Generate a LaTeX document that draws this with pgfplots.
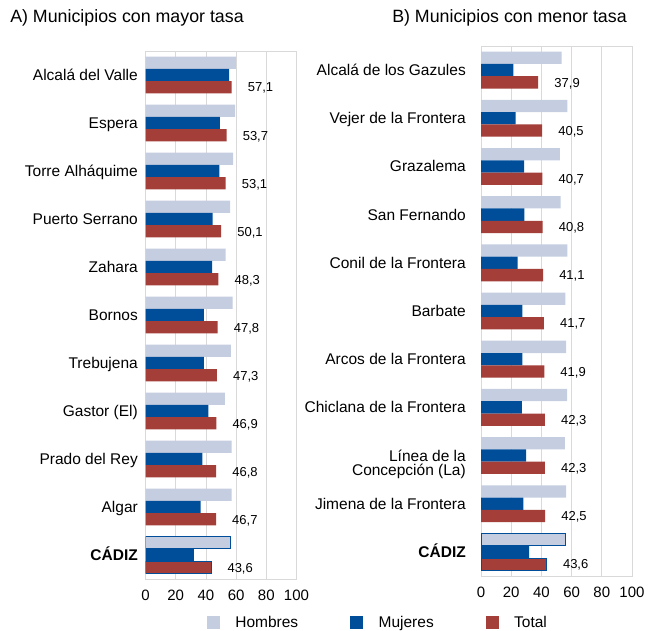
\documentclass[border=0pt]{standalone}
\usepackage{pgfplots}
\usepackage{pgfplotstable}
\pgfplotsset{compat=1.18}
\usepackage{fontspec}
\setmainfont{Liberation Sans}
\definecolor{hom}{HTML}{C5CDE0}
\definecolor{muj}{HTML}{004D99}
\definecolor{tot}{HTML}{A33E38}
\definecolor{gridc}{HTML}{D9D9D9}

\pgfplotstableread{
y h m t
10 59.9 55.3 57.1
9 59.3 49.3 53.7
8 58.1 48.9 53.1
7 56.0 44.5 50.1
6 53.1 44.2 48.3
5 57.7 38.7 47.8
4 56.6 38.7 47.3
3 52.6 41.6 46.9
2 57.0 37.6 46.8
1 57.0 36.5 46.7
0 56.4 32.0 43.6
}\tabA

\pgfplotstableread{
y h m t
10 53.4 21.4 37.9
9 57.2 23.0 40.5
8 52.3 28.5 40.7
7 52.8 28.7 40.8
6 57.2 24.3 41.1
5 55.8 27.4 41.7
4 56.3 27.4 41.9
3 57.0 27.0 42.3
2 55.6 29.8 42.3
1 56.3 28.0 42.5
0 55.8 31.8 43.6
}\tabB

\pgfplotsset{panel/.style={
  xbar, scale only axis, width=151pt,
  xmin=0, xmax=100, ymin=-0.5, ymax=10.5,
  xtick={0,20,...,100}, ytick={0,...,10},
  xmajorgrids, grid style={gridc, line width=0.8pt},
  axis line style={gridc, line width=0.8pt},
  major tick length=0pt,
  bar width=12.3pt,
  /pgf/number format/assume math mode=true,
  xticklabel style={font=\fontsize{15}{18}\selectfont, inner sep=0pt, anchor=north, yshift=-11pt},
  yticklabel style={font=\fontsize{15.5}{14}\selectfont, inner sep=0pt, anchor=base east, yshift=-5.5pt},
  title style={anchor=base west, inner sep=0pt, font=\fontsize{17.8}{20}\selectfont},
},
hbar/.style={fill=hom, draw=none, bar shift=12.3pt, forget plot},
mbar/.style={fill=muj, draw=none, bar shift=0pt, forget plot},
tbar/.style={fill=tot, draw=none, bar shift=-12.3pt, forget plot},
vlab/.style={point meta=x, nodes near coords,
  nodes near coords style={font=\fontsize{13}{15}\selectfont, anchor=west, inner sep=0pt, xshift=16pt, yshift=-1pt,
  /pgf/number format/.cd, fixed, fixed zerofill, precision=1, use comma}},
}

\begin{document}
\begin{tikzpicture}
\useasboundingbox (0,0) rectangle (648pt,630pt);
\begin{axis}[panel, height=528pt, at={(145.5pt,51pt)}, anchor=south west,
  title={A) Municipios con mayor tasa}, title style={at={(-0.897,1.043)}},
  yticklabel style={xshift=-7.5pt},
  yticklabels={\textbf{CÁDIZ}, Algar, Prado del Rey, Gastor (El), Trebujena, Bornos, Zahara, Puerto Serrano, Torre Alháquime, Espera, Alcalá del Valle},
  legend columns=3,
  legend style={at={(0.407,-0.0824)}, anchor=west, draw=none, fill=none, inner sep=0pt, outer sep=0pt,
    nodes={inner sep=0pt}, font=\fontsize{15.5}{18}\selectfont,
    /tikz/every odd column/.append style={column sep=16pt},
    /tikz/every even column/.append style={column sep=52pt}},
]
\addplot[hbar] table[x=h, y=y] {\tabA};
\addplot[mbar] table[x=m, y=y] {\tabA};
\addplot[tbar, vlab] table[x=t, y=y] {\tabA};
\addplot[hbar, draw=muj, line width=1pt] coordinates {(56.4,0)};
\addplot[tbar, draw=muj, line width=1pt] coordinates {(43.6,0)};
\addlegendimage{legend image code/.code={\fill[hom] (0pt,-6pt) rectangle (12pt,6pt);}}
\addlegendentry{Hombres}
\addlegendimage{legend image code/.code={\fill[muj] (0pt,-6pt) rectangle (12pt,6pt);}}
\addlegendentry{Mujeres}
\addlegendimage{legend image code/.code={\fill[tot] (0pt,-6pt) rectangle (12pt,6pt);}}
\addlegendentry{Total}
\end{axis}
\begin{axis}[panel, height=530pt, at={(481pt,54pt)}, anchor=south west,
  title={B) Municipios con menor tasa}, title style={at={(-0.589,1.0334)}},
  yticklabel style={xshift=-15pt},
  yticklabels={\textbf{CÁDIZ}, Jimena de la Frontera, {\begin{tabular}[t]{@{}r@{}}Línea de la\\[-1.5pt]Concepción (La)\end{tabular}}, Chiclana de la Frontera, Arcos de la Frontera, Barbate, Conil de la Frontera, San Fernando, Grazalema, Vejer de la Frontera, Alcalá de los Gazules},
]
\addplot[hbar] table[x=h, y=y] {\tabB};
\addplot[mbar] table[x=m, y=y] {\tabB};
\addplot[tbar, vlab] table[x=t, y=y] {\tabB};
\addplot[hbar, draw=muj, line width=1pt] coordinates {(55.8,0)};
\addplot[tbar, draw=muj, line width=1pt] coordinates {(43.6,0)};
\end{axis}
\end{tikzpicture}
\end{document}
